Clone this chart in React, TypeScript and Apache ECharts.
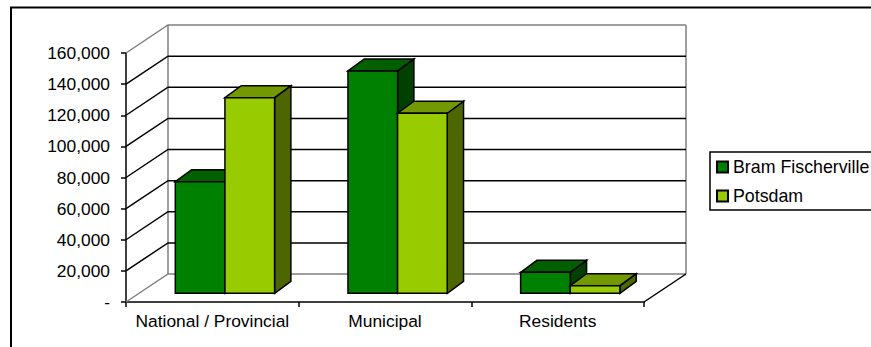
import React, { useEffect, useRef } from "react";
import * as echarts from "echarts";

const categories = ["National / Provincial", "Municipal", "Residents"];
const bramFischerville = [71700, 142900, 13500];
const potsdam = [125700, 115700, 4900];
const valueTicks = [0, 20000, 40000, 60000, 80000, 100000, 120000, 140000, 160000];

const FONT = "'Liberation Sans', Arial, sans-serif";
const FONT_SIZE = 17.4;
const LEGEND_FONT_SIZE = 17.8;
const GRAY = "#808080";

// Depth of the box walls and of the bars, in pixels.
const WALL_DX = 42;
const WALL_DY = -28;
const PLANE_DX = 12.6;
const PLANE_DY = -8.7;
const BAR_DX = 16.3;
const BAR_DY = -12;
const BAR_SHARE = 0.2875;

type Shades = { front: string; top: string; side: string };
const greenShades: Shades = { front: "#008000", top: "#006000", side: "#004000" };
const limeShades: Shades = { front: "#99CC00", top: "#739900", side: "#4D6600" };

const facePolygon = (points: number[][], fill: string) => ({
  type: "polygon",
  shape: { points },
  style: { fill, stroke: "#000", lineWidth: 1.5 },
});

// One extruded bar: front, top and side faces, offset within its category band.
const barRenderer = (slot: number, shades: Shades) => (_params: any, api: any) => {
  const cat = api.value(0);
  const base = api.coord([cat, 0]);
  const tip = api.coord([cat, api.value(1)]);
  const w = api.size([1, 0])[0] * BAR_SHARE;
  const x0 = base[0] + PLANE_DX + (slot - 1) * w;
  const x1 = x0 + w;
  const yb = base[1] + PLANE_DY;
  const yt = tip[1] + PLANE_DY;
  return {
    type: "group",
    children: [
      facePolygon([[x1, yb], [x1 + BAR_DX, yb + BAR_DY], [x1 + BAR_DX, yt + BAR_DY], [x1, yt]], shades.side),
      facePolygon([[x0, yt], [x0 + BAR_DX, yt + BAR_DY], [x1 + BAR_DX, yt + BAR_DY], [x1, yt]], shades.top),
      facePolygon([[x0, yb], [x1, yb], [x1, yt], [x0, yt]], shades.front),
    ],
  };
};

const strokeLine = (points: number[][], stroke: string) => ({
  type: "polyline",
  shape: { points },
  style: { fill: "none", stroke, lineWidth: 1.5 },
});

// Side wall and back wall gridlines for one tick, plus the box edges on the first tick.
const wallRenderer = (params: any, api: any) => {
  const v = api.value(1);
  const band = api.size([1, 0])[0];
  const left = api.coord([0, v])[0] - band / 2;
  const right = api.coord([categories.length - 1, v])[0] + band / 2;
  const y = api.coord([0, v])[1];
  const isEdge = v === valueTicks[0] || v === valueTicks[valueTicks.length - 1];
  const children: any[] = [
    strokeLine(
      [[left, y], [left + WALL_DX, y + WALL_DY], [right + WALL_DX, y + WALL_DY]],
      isEdge ? GRAY : "#000",
    ),
  ];
  if (params.dataIndex === 0) {
    const topY = api.coord([0, valueTicks[valueTicks.length - 1]])[1];
    children.push(
      strokeLine([[left + WALL_DX, y + WALL_DY], [left + WALL_DX, topY + WALL_DY]], GRAY),
      strokeLine([[right + WALL_DX, y + WALL_DY], [right + WALL_DX, topY + WALL_DY]], GRAY),
      strokeLine([[right, y], [right + WALL_DX, y + WALL_DY]], "#000"),
    );
  }
  return { type: "group", children };
};

const indexed = (values: number[]) => values.map((v, i) => [i, v]);

export default function App() {
  const ref = useRef<HTMLDivElement>(null);

  useEffect(() => {
    document.body.style.margin = "0";
    const chart = echarts.init(ref.current!, undefined, { renderer: "svg" });
    chart.setOption({
      animation: false,
      backgroundColor: "#fff",
      textStyle: { fontFamily: FONT },
      grid: { left: 126, right: 227, top: 53, bottom: 45, containLabel: false },
      graphic: [
        {
          type: "rect",
          silent: true,
          shape: { x: 11, y: 7.5, width: 1000, height: 500 },
          style: { fill: "none", stroke: "#000", lineWidth: 2 },
        },
      ],
      legend: {
        orient: "vertical",
        left: 710,
        top: 152,
        data: ["Bram Fischerville", "Potsdam"],
        icon: "rect",
        itemWidth: 11,
        itemHeight: 11,
        itemGap: 11,
        padding: [6, 40, 5, 6],
        borderColor: "#000",
        borderWidth: 1.5,
        backgroundColor: "#fff",
        selectedMode: false,
        textStyle: { fontFamily: FONT, fontSize: LEGEND_FONT_SIZE, color: "#000" },
      },
      xAxis: {
        type: "category",
        data: categories,
        axisLine: { lineStyle: { color: "#000", width: 1.5 } },
        axisTick: { show: true, length: 5, lineStyle: { color: "#000", width: 1.5 } },
        axisLabel: { color: "#000", fontFamily: FONT, fontSize: FONT_SIZE, margin: 10, interval: 0 },
        splitLine: { show: false },
      },
      yAxis: {
        type: "value",
        min: 0,
        max: 160000,
        interval: 20000,
        axisLine: { show: true, lineStyle: { color: "#000", width: 1.5 } },
        axisTick: { show: true, length: 5, lineStyle: { color: "#000", width: 1.5 } },
        axisLabel: {
          color: "#000",
          fontFamily: FONT,
          fontSize: FONT_SIZE,
          margin: 16,
          formatter: (v: number) => (v === 0 ? "-" : v.toLocaleString("en-US")),
        },
        splitLine: { show: false },
      },
      series: [
        {
          type: "custom",
          silent: true,
          z: 1,
          clip: false,
          renderItem: wallRenderer,
          data: valueTicks.map((v) => [0, v]),
        },
        {
          type: "custom",
          name: "Bram Fischerville",
          z: 3,
          clip: false,
          renderItem: barRenderer(0, greenShades),
          itemStyle: { color: greenShades.front, borderColor: "#000", borderWidth: 1.5 },
          data: indexed(bramFischerville),
        },
        {
          type: "custom",
          name: "Potsdam",
          z: 4,
          clip: false,
          renderItem: barRenderer(1, limeShades),
          itemStyle: { color: limeShades.front, borderColor: "#000", borderWidth: 1.5 },
          data: indexed(potsdam),
        },
      ],
    });
    return () => chart.dispose();
  }, []);

  return <div ref={ref} style={{ width: 871, height: 347 }} />;
}
